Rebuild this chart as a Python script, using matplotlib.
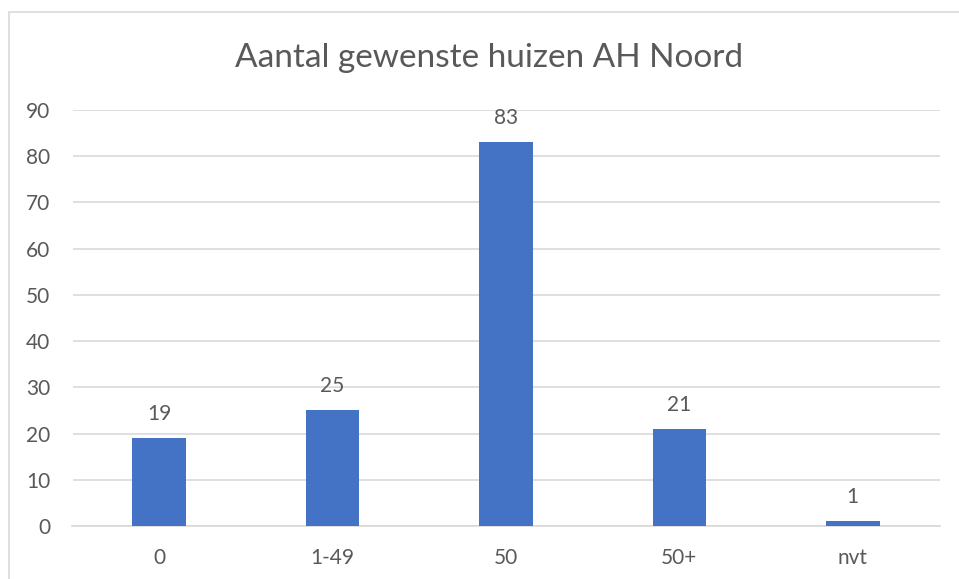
import matplotlib
matplotlib.use("Agg")
import matplotlib.pyplot as plt
from matplotlib.patches import Rectangle

categories = ["0", "1-49", "50", "50+", "nvt"]
values = [19, 25, 83, 21, 1]
yticks = [0, 10, 20, 30, 40, 50, 60, 70, 80, 90]

bar_color = "#4472C4"
text_color = "#595959"
grid_color = "#D9D9D9"

plt.rcParams["font.family"] = ["Lato", "DejaVu Sans"]

fig = plt.figure(figsize=(9.59, 5.79), dpi=100)
ax = fig.add_axes([72.5 / 959, 1 - 526 / 579, (939.5 - 72.5) / 959, (526 - 110) / 579])

x = range(len(categories))
ax.bar(x, values, width=0.31, color=bar_color, zorder=3)
for xi, v in zip(x, values):
    ax.text(xi, v + 3.9, str(v), ha="center", va="baseline", fontsize=15, color=text_color)

ax.set_xlim(-0.5, len(categories) - 0.5)
ax.set_ylim(0, 90)
ax.set_yticks(yticks)
ax.set_xticks(list(x))
ax.set_xticklabels(categories)
ax.tick_params(axis="both", length=0, labelsize=15, colors=text_color)
ax.tick_params(axis="y", pad=16)
ax.tick_params(axis="x", pad=16)
ax.yaxis.grid(True, color=grid_color, linewidth=1.2, zorder=0)
for s in ["left", "right", "top"]:
    ax.spines[s].set_visible(False)
ax.spines["bottom"].set_color(grid_color)
ax.spines["bottom"].set_linewidth(1.2)

fig.text(489 / 959, 1 - 67 / 579, "Aantal gewenste huizen AH Noord", ha="center", va="baseline",
         fontsize=24, color=text_color)

fig.patches.append(Rectangle((8.5 / 959, -0.1), 1.2, 1 - 11.5 / 579 + 0.1,
                             transform=fig.transFigure, fill=False,
                             edgecolor=grid_color, linewidth=1.2))

fig.savefig("out.png", dpi=100, facecolor="white")
